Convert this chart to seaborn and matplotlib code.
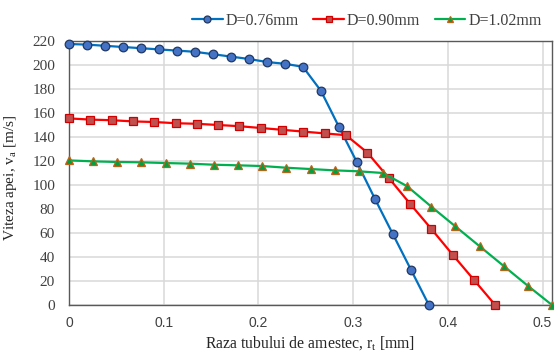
import matplotlib
matplotlib.use("Agg")
import matplotlib.pyplot as plt
import seaborn as sns
import pandas as pd
from matplotlib.lines import Line2D

# Radius positions (mm) and water velocity (m/s) for each mixing-tube diameter
r_076 = [0, 0.019, 0.038, 0.057, 0.076, 0.095, 0.114, 0.133, 0.152, 0.171, 0.19,
         0.209, 0.228, 0.247, 0.266, 0.285, 0.304, 0.323, 0.342, 0.361, 0.38]
v_076 = [217.5, 217, 216, 215, 214, 213, 212, 211, 209, 207, 205,
         202.5, 201, 198.5, 178.5, 148.5, 119, 88.5, 59, 29.5, 0]

r_090 = [0, 0.0225, 0.045, 0.0675, 0.09, 0.1125, 0.135, 0.1575, 0.18, 0.2025, 0.225,
         0.2475, 0.27, 0.2925, 0.315, 0.3375, 0.36, 0.3825, 0.405, 0.4275, 0.45]
v_090 = [155.5, 154.5, 154, 153, 152.5, 151.5, 151, 150, 149, 147.5, 146,
         144.5, 143, 141.5, 127, 106, 84.5, 63.5, 42, 21, 0]

r_102 = [0, 0.0255, 0.051, 0.0765, 0.102, 0.1275, 0.153, 0.1785, 0.204, 0.2295, 0.255,
         0.2805, 0.306, 0.3315, 0.357, 0.3825, 0.408, 0.4335, 0.459, 0.4845, 0.51]
v_102 = [120.5, 119.7, 119.2, 118.9, 118.3, 117.8, 116.9, 116.4, 115.8, 114.4, 113.3,
         112.2, 111.4, 110, 99, 82, 65.5, 49, 32.5, 16, 0]

labels = ["D=0.76mm", "D=0.90mm", "D=1.02mm"]
x_ticks = [0, 0.1, 0.2, 0.3, 0.4, 0.5]
x_tick_labels = ["0", "0.1", "0.2", "0.3", "0.4", "0.5"]
y_ticks = [0, 20, 40, 60, 80, 100, 120, 140, 160, 180, 200, 220]

series = [
    (r_076, v_076, labels[0], dict(color="#0070C0", marker="o", markersize=6.2,
                                   markerfacecolor="#4472C4", markeredgecolor="#203864",
                                   markeredgewidth=0.9)),
    (r_090, v_090, labels[1], dict(color="#FF0000", marker="s", markersize=6.3,
                                   markerfacecolor="#C0504D", markeredgecolor="#D00000",
                                   markeredgewidth=0.9)),
    (r_102, v_102, labels[2], dict(color="#00B050", marker="^", markersize=6.3,
                                   markerfacecolor="#00A040", markeredgecolor="#B8651B",
                                   markeredgewidth=0.9)),
]

sns.set_style("white")
serif = ["Liberation Serif", "DejaVu Serif"]
plt.rcParams["font.family"] = serif

fig = plt.figure(figsize=(5.54, 3.53), dpi=100)
ax = fig.add_axes([69 / 554, 48 / 353, 483 / 554, 264 / 353])

handles = []
for xs, ys, lab, style in series:
    df = pd.DataFrame({"r": xs, "v": ys})
    sns.lineplot(data=df, x="r", y="v", ax=ax, linewidth=1.6, legend=False,
                 zorder=3, clip_on=False, **style)
    leg_style = dict(style, markersize=5.0)
    handles.append(Line2D([], [], linewidth=1.6, label=lab, **leg_style))

ax.set_xlim(0, 0.51)
ax.set_ylim(0, 220)
ax.set_xticks(x_ticks)
ax.set_xticklabels(x_tick_labels, fontfamily=["Liberation Sans", "DejaVu Sans"],
                   fontsize=10, color="#404040")
ax.set_yticks(y_ticks)
ax.set_yticklabels([str(t) for t in y_ticks], fontsize=11, color="#404040")
ax.tick_params(axis="both", length=0)
ax.tick_params(axis="x", pad=8)
ax.tick_params(axis="y", pad=10)
ax.grid(True, color="#D9D9D9", linewidth=1.1)
ax.set_axisbelow(True)
for sp in ax.spines.values():
    sp.set_visible(True)
    sp.set_color("#595959")
    sp.set_linewidth(1.0)

ax.set_xlabel(r"Raza tubului de amestec, r$_\mathregular{t}$ [mm]", fontsize=11.3,
              color="#262626", labelpad=3)
ax.set_ylabel(r"Viteza apei, v$_\mathregular{a}$ [m/s]", fontsize=11,
              color="#262626")
ax.yaxis.set_label_coords(-0.104, 0.48)

fig.legend(handles=handles, loc="center right", bbox_to_anchor=(548 / 554, 1 - 21 / 353),
           ncol=3, frameon=False, fontsize=11.5, handlelength=1.9, handletextpad=0.2,
           columnspacing=0.9, borderaxespad=0.0, labelcolor="#404040")

fig.savefig("out.png", dpi=100)
